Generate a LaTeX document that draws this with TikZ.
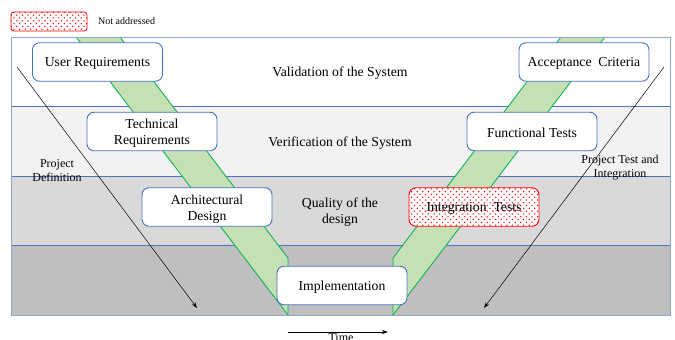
\documentclass[tikz,border=0pt]{standalone}
\usepackage{fontspec}
\setmainfont{Liberation Serif}
\usetikzlibrary{arrows.meta,patterns}
\definecolor{bandA}{HTML}{F2F2F2}
\definecolor{bandB}{HTML}{D9D9D9}
\definecolor{bandC}{HTML}{BFBFBF}
\definecolor{sepblue}{HTML}{4F75B8}
\definecolor{framecol}{HTML}{8EA9CB}
\definecolor{vgreen}{HTML}{C5E0B4}
\definecolor{vgreenline}{HTML}{00B050}
\definecolor{boxblue}{HTML}{4472C4}
\definecolor{notred}{HTML}{FF0000}
\pgfdeclarepatternformonly{reddots}{\pgfqpoint{-1pt}{-1pt}}{\pgfqpoint{7pt}{7pt}}{\pgfqpoint{5.6pt}{5.6pt}}{%
  \pgfpathcircle{\pgfqpoint{0pt}{0pt}}{.75pt}%
  \pgfpathcircle{\pgfqpoint{2.8pt}{2.8pt}}{.75pt}%
  \pgfusepath{fill}}
\newcommand\lowered[1]{\raisebox{-1.8pt}[\height][\depth]{#1}}
\tikzset{
  stagebox/.style={draw=boxblue, line width=0.9pt, rounded corners=7pt, fill=white,
    minimum width=130pt, minimum height=38.5pt, align=center, inner sep=2pt,
    font=\fontsize{13.7}{16}\selectfont},
  openbox/.style={stagebox, draw=notred, postaction={pattern=reddots, pattern color=notred}},
  bandtext/.style={align=center, font=\fontsize{13.7}{16}\selectfont},
  sidetext/.style={align=center, font=\fontsize{12}{14}\selectfont, inner sep=0pt},
  flow/.style={line width=0.5pt, -{Stealth[length=6pt,width=4pt]}},
  greenedge/.style={draw=vgreenline, line width=0.8pt},
  sepline/.style={draw=sepblue, line width=0.8pt}
}
\begin{document}
\begin{tikzpicture}[x=1pt,y=-1pt]
\useasboundingbox (0,0) rectangle (675,340);
\fill[white] (0,0) rectangle (675,340);
% bands
\fill[white] (11,37) rectangle (670,106);
\fill[bandA] (11,106) rectangle (670,176);
\fill[bandB] (11,176) rectangle (670,245);
\fill[bandC] (11,245) rectangle (670,315);
\draw[sepline] (11,106) -- (670,106);
\draw[sepline] (11,176) -- (670,176);
\draw[sepline] (11,245) -- (670,245);
% green V
\fill[vgreen] (76,37) -- (120,37) -- (288,258) -- (288,315) -- cycle;
\draw[greenedge] (120,37) -- (288,258) -- (288,315);
\draw[greenedge] (76,37) -- (288,315);
\fill[vgreen] (605,37) -- (561,37) -- (393,258) -- (393,315) -- cycle;
\draw[greenedge] (561,37) -- (393,258) -- (393,315);
\draw[greenedge] (605,37) -- (393,315);
% frame
\draw[framecol, line width=1pt] (11,37) rectangle (670,315);
% legend
\node[draw=notred, line width=0.8pt, rounded corners=3pt, fill=white,
  postaction={pattern=reddots, pattern color=notred},
  minimum width=76pt, minimum height=19pt, inner sep=0pt] (legend) at (49,21.5) {};
\node[anchor=west, font=\fontsize{10}{12}\selectfont, inner sep=0pt] (legtext) at (98,21) {Not addressed};
% band texts
\node[bandtext] (val) at (340,73.5) {Validation of the System};
\node[bandtext] (ver) at (340,143.5) {Verification of the System};
\node[bandtext] (qual) at (340,212) {Quality of the\\design};
\node[sidetext] (pdef) at (57,170.5) {Project\\Definition};
\node[sidetext] (ptest) at (620,167.5) {Project Test and\\Integration};
% stage boxes
\node[stagebox] (ur) at (97.5,62) {\lowered{User Requirements}};
\node[stagebox] (ac) at (584,62) {\lowered{Acceptance\ \ Criteria}};
\node[stagebox] (tr) at (152,131.5) {\lowered{Technical}\\\lowered{Requirements}};
\node[stagebox] (ft) at (532,131.5) {\lowered{Functional Tests}};
\node[stagebox] (ad) at (207,207) {\lowered{Architectural}\\\lowered{Design}};
\node[openbox] (it) at (474,207) {\lowered{Integration\ \ Tests}};
\node[stagebox] (im) at (342,285.5) {\lowered{Implementation}};
% arrows
\coordinate (pd1) at (17,67);
\coordinate (pd2) at (197,308);
\coordinate (pt1) at (664,67);
\coordinate (pt2) at (484,308);
\coordinate (t1) at (288,332);
\coordinate (t2) at (388,332);
\draw[flow] (pd1) -- (pd2);
\draw[flow] (pt1) -- (pt2);
\draw[flow] (t1) -- (t2);
\node[anchor=north, font=\fontsize{12}{14}\selectfont, inner sep=1pt] (time) at (341,332.5) {Time};
\end{tikzpicture}
\end{document}
